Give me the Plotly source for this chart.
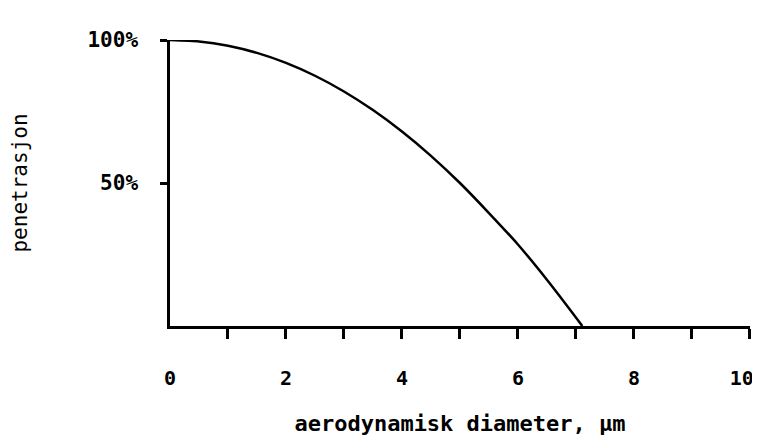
import plotly.graph_objects as go

# data
diameter = [0, 0.5, 1, 1.5, 2, 2.5, 3, 3.5, 4, 4.5, 5, 5.5, 6, 6.5, 7, 7.11]
penetration = [100, 99.5, 98, 95.5, 92, 87.5, 82, 75.5, 68, 59.5, 50, 39.5, 28.5, 16.2, 3, 0]
x_tick_vals = [1, 2, 3, 4, 5, 6, 7, 8, 9, 10]
x_label_vals = [0, 2, 4, 6, 8, 10]
x_label_text = ["0", "2", "4", "6", "8", "10"]
y_tick_vals = [50, 100]
y_tick_text = ["50%", "100%"]

# the page body has an 8 px margin; shrink the figure to keep the plot in place
OFF = 8

fig = go.Figure()
fig.add_trace(go.Scatter(x=diameter, y=penetration, mode="lines",
                         line=dict(color="black", width=2.5, shape="spline", smoothing=0.6),
                         showlegend=False, hoverinfo="skip"))
fig.add_trace(go.Scatter(x=[0], y=[0], xaxis="x2", mode="markers",
                         marker=dict(opacity=0), showlegend=False, hoverinfo="skip"))
fig.add_trace(go.Scatter(x=[0], y=[0], xaxis="x3", mode="markers",
                         marker=dict(opacity=0), showlegend=False, hoverinfo="skip"))

mono = "DejaVu Sans Mono"
lbl_font = dict(family=mono, size=20, color="black", weight="bold")
fig.update_layout(
    width=760 - OFF, height=441 - OFF,
    margin=dict(l=170 - OFF, r=10, t=40 - OFF, b=115),
    paper_bgcolor="white", plot_bgcolor="white",
    xaxis=dict(range=[0, 10.002], tickvals=x_tick_vals, showticklabels=False,
               ticks="outside", ticklen=10, tickwidth=2.5, tickcolor="black",
               showline=True, linecolor="black", linewidth=2.5,
               showgrid=False, zeroline=False, automargin=False),
    xaxis2=dict(range=[0, 10.002], overlaying="x", anchor="y", side="bottom",
                tickvals=x_label_vals[:-1], ticktext=x_label_text[:-1], ticks="",
                showline=False, showgrid=False, zeroline=False, automargin=False,
                ticklabelstandoff=38, tickfont=lbl_font,
                title=dict(text="<b>aerodynamisk diameter, µm</b>",
                           font=dict(family=mono, size=22, color="black"),
                           standoff=26)),
    xaxis3=dict(range=[0, 10.002], overlaying="x", anchor="y", side="bottom",
                tickvals=x_label_vals[-1:], ticktext=x_label_text[-1:], ticks="",
                showline=False, showgrid=False, zeroline=False, automargin=False,
                ticklabelstandoff=38, ticklabelshift=-8, ticklabeloverflow="allow",
                tickfont=lbl_font),
    yaxis=dict(range=[0, 100], tickvals=y_tick_vals, ticktext=y_tick_text,
               ticks="outside", ticklen=7, tickwidth=2.5, tickcolor="black",
               showline=True, linecolor="black", linewidth=2.5, automargin=False,
               showgrid=False, zeroline=False, ticklabelstandoff=18,
               tickfont=dict(family=mono, size=21, color="black", weight="bold"),
               title=dict(text="penetrasjon",
                          font=dict(family=mono, size=21, color="black"),
                          standoff=56)),
)
fig.write_html("out.html", config={"displayModeBar": False})
